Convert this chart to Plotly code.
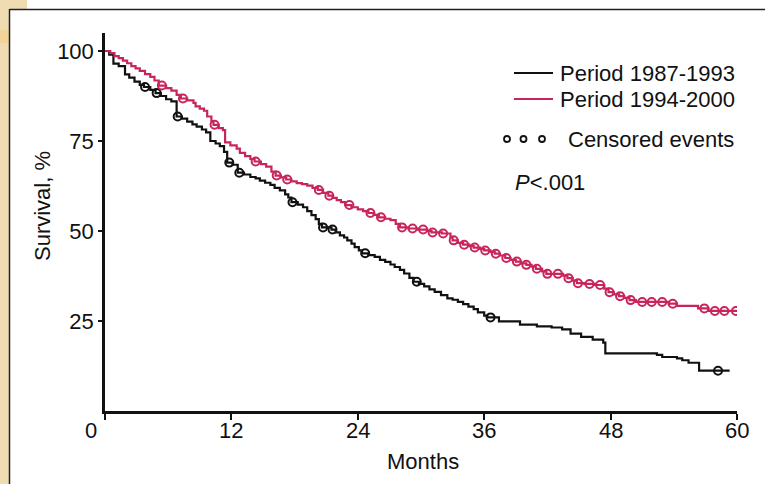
import numpy as np
import plotly.graph_objects as go

# ---------------- data ----------------
months_1987 = [0, 0.4, 0.8, 1.3, 1.9, 2.3, 2.8, 3.3, 3.7, 4.3, 4.8, 5.3, 5.8, 6.3, 6.8, 7.3, 7.8,
               8.3, 8.7, 9.2, 9.6, 10.0, 10.5, 10.9, 11.3, 11.6, 12.1, 12.6, 13.2, 13.8, 14.3, 14.7,
               15.2, 15.7, 16.1, 16.6, 17.1, 17.4, 17.7, 18.3, 18.8, 19.2, 19.6, 20.0, 20.3, 20.6,
               21.5, 21.9, 22.3, 22.7, 23.0, 23.4, 23.7, 24.1, 24.4, 25.0, 25.6, 26.1, 26.6, 27.1,
               27.5, 28.0, 28.4, 28.9, 29.3, 29.8, 30.3, 30.8, 31.3, 31.9, 32.5, 33.0, 33.5, 34.0,
               34.5, 35.0, 35.4, 36.0, 36.3, 37.4, 39.4, 41.0, 42.4, 43.4, 44.2, 45.2, 46.3, 47.3,
               47.5, 52.4, 52.9, 54.3, 54.8, 55.4, 56.4]
surv_1987 = [100, 99, 96.5, 95.8, 93.5, 92.6, 91.5, 90.6, 90.0, 89.2, 88.3, 87.5, 86.6, 86.0, 81.8,
             81.2, 80.4, 79.6, 79.0, 78.2, 77.4, 75.0, 74.3, 73.6, 72.0, 69.0, 68.4, 66.2, 65.7, 65.0,
             64.6, 64.0, 63.4, 62.8, 62.0, 61.3, 60.2, 59.3, 58.0, 57.3, 56.6, 55.5, 54.4, 53.3, 52.0,
             51.0, 50.4, 49.6, 48.8, 48.2, 47.4, 46.5, 45.5, 44.6, 43.8, 43.3, 42.8, 42.0, 41.4, 40.7,
             40.0, 39.2, 38.2, 37.0, 35.9, 35.3, 34.6, 33.8, 33.1, 32.2, 31.3, 30.9, 30.3, 29.7, 29.0,
             28.3, 27.4, 26.5, 26.0, 24.9, 24.0, 23.5, 23.2, 22.7, 21.5, 20.6, 19.8, 19.0, 16.0, 15.6,
             15.0, 14.6, 14.1, 13.4, 11.2]
end_1987 = 59.3
censored_1987 = [3.8, 4.9, 6.9, 11.8, 12.75, 17.8, 20.7, 21.6, 24.7, 29.6, 36.6, 58.2]

months_1994 = [0, 0.5, 0.9, 1.3, 1.7, 2.1, 2.5, 2.9, 3.3, 3.8, 4.3, 4.7, 5.1, 5.8, 6.3, 6.8, 7.2,
               7.8, 8.4, 8.6, 9.0, 9.4, 9.7, 10.1, 10.3, 10.8, 11.2, 11.4, 11.9, 12.5, 12.8, 13.3,
               13.8, 14.2, 14.8, 15.3, 15.8, 16.2, 16.7, 17.2, 17.7, 18.2, 18.7, 19.2, 19.7, 20.2,
               20.7, 21.2, 21.6, 22.0, 22.4, 22.8, 23.4, 24.0, 24.5, 25.0, 25.5, 26.0, 26.6, 27.1,
               27.6, 28.0, 28.8, 29.7, 30.6, 31.0, 32.0, 32.8, 33.0, 33.5, 34.0, 34.6, 35.0, 35.6,
               36.0, 36.6, 37.0, 37.5, 38.0, 38.5, 39.0, 39.5, 40.0, 40.5, 40.9, 41.5, 41.9, 43.5,
               43.9, 44.4, 44.8, 45.5, 46.5, 47.4, 47.8, 48.3, 48.8, 49.3, 49.8, 50.4, 53.5, 54.3,
               56.3, 57.3]
surv_1994 = [100, 99.4, 98.6, 98.0, 97.3, 96.6, 95.8, 95.2, 94.5, 93.6, 92.8, 91.8, 90.4, 89.7, 89.0,
             87.8, 86.8, 86.3, 85.6, 84.6, 84.0, 83.4, 81.8, 80.5, 79.5, 78.6, 78.0, 74.6, 73.8, 72.9,
             71.7, 70.8, 70.0, 69.3, 68.6, 67.9, 66.5, 65.4, 64.9, 64.3, 63.8, 63.3, 63.0, 62.6, 62.0,
             61.4, 60.6, 59.8, 59.2, 58.6, 58.0, 57.2, 56.6, 56.0, 55.5, 55.0, 54.5, 53.8, 53.4, 53.0,
             52.0, 51.0, 50.7, 50.4, 50.0, 49.6, 49.3, 48.2, 47.4, 46.7, 46.2, 45.8, 45.4, 45.0, 44.6,
             44.2, 43.7, 43.2, 42.5, 42.0, 41.5, 41.0, 40.6, 40.1, 39.5, 38.8, 38.1, 37.6, 36.9, 36.2,
             35.5, 35.3, 35.0, 34.0, 33.0, 32.4, 31.9, 31.4, 30.8, 30.3, 29.8, 29.2, 28.5, 27.8]
end_1994 = 60.0
censored_1994 = [5.4, 7.4, 10.4, 14.3, 16.3, 17.3, 20.3, 21.3, 23.2, 25.2, 26.2, 28.2, 29.2, 30.2,
                 31.1, 32.1, 33.1, 34.1, 35.1, 36.1, 37.1, 38.1, 39.1, 40.0, 41.0, 42.0, 43.0, 44.0,
                 44.9, 46.0, 47.0, 47.9, 48.9, 49.9, 51.0, 51.9, 52.9, 53.9, 56.9, 57.9, 58.8, 59.9]

x_ticks = [0, 12, 24, 36, 48, 60]
x_tick_labels = ["0", "12", "24", "36", "48", "60"]
y_ticks = [25, 50, 75, 100]
legend_labels = ["Period 1987-1993", "Period 1994-2000", "Censored events"]
p_label = "<i>P</i>&lt;.001"

BLACK = "#111111"
RED = "#c8265a"
FONT = "Liberation Sans, Arial, Helvetica, sans-serif"


def km_at(times, surv, t):
    idx = np.searchsorted(np.asarray(times), t, side="right") - 1
    return [surv[i] for i in idx]


fig = go.Figure()
for times, surv, end, cens, col in [
    (months_1987, surv_1987, end_1987, censored_1987, BLACK),
    (months_1994, surv_1994, end_1994, censored_1994, RED),
]:
    fig.add_trace(go.Scatter(x=times + [end], y=surv + [surv[-1]], mode="lines",
                             line=dict(color=col, width=2.2, shape="hv"), hoverinfo="skip"))
    fig.add_trace(go.Scatter(x=cens, y=km_at(times, surv, cens), mode="markers",
                             marker=dict(symbol="circle-open", size=8, color=col,
                                         line=dict(color=col, width=2)), hoverinfo="skip"))

# pixel -> paper helpers (plot area: x 105..737, y 33..411)
L, R, T, B = 105, 737, 33, 411
def px(x):
    return (x - L) / (R - L)
def py(y):
    return (B - y) / (B - T)

shapes = []
# page background / frame
shapes.append(dict(type="rect", xref="paper", yref="paper", x0=px(0), x1=px(9), y0=py(484), y1=py(0),
                   fillcolor="#efdcb2", line_width=0, layer="below"))
shapes.append(dict(type="rect", xref="paper", yref="paper", x0=px(0), x1=px(27), y0=py(9), y1=py(0),
                   fillcolor="#efdcb2", line_width=0, layer="below"))
shapes.append(dict(type="rect", xref="paper", yref="paper", x0=px(0), x1=px(9), y0=py(43), y1=py(30),
                   fillcolor="#f2d49a", line_width=0, layer="below"))
shapes.append(dict(type="line", xref="paper", yref="paper", x0=px(9.5), x1=px(9.5), y0=py(484), y1=py(9),
                   line=dict(color="#222222", width=1.5)))
shapes.append(dict(type="line", xref="paper", yref="paper", x0=px(9.5), x1=px(765), y0=py(9.5), y1=py(9.5),
                   line=dict(color="#222222", width=1.5)))
# legend line samples
shapes.append(dict(type="line", xref="paper", yref="paper", x0=px(514), x1=px(553), y0=py(73), y1=py(73),
                   line=dict(color=BLACK, width=2)))
shapes.append(dict(type="line", xref="paper", yref="paper", x0=px(514), x1=px(553), y0=py(99), y1=py(99),
                   line=dict(color=RED, width=2)))
for cx in [507, 523.5, 542]:
    shapes.append(dict(type="circle", xref="paper", yref="paper", x0=px(cx - 3), x1=px(cx + 3),
                       y0=py(139 + 3), y1=py(139 - 3), line=dict(color=BLACK, width=1.8)))

annotations = [
    dict(text=legend_labels[0], x=px(558), y=py(73), xanchor="left", yanchor="middle"),
    dict(text=legend_labels[1], x=px(558), y=py(99), xanchor="left", yanchor="middle"),
    dict(text=legend_labels[2], x=px(566), y=py(139), xanchor="left", yanchor="middle"),
    dict(text=p_label, x=px(513), y=py(182), xanchor="left", yanchor="middle"),
    dict(text="Months", x=px(423), y=py(461), xanchor="center", yanchor="middle"),
    dict(text="Survival, %", x=px(42), y=py(206), xanchor="center", yanchor="middle", textangle=-90),
]
# x tick labels (the "0" sits left of the axis corner as in the original)
for v, lab in zip(x_ticks, x_tick_labels):
    xpix = L + (R - L) * v / 60.0
    if v == 0:
        xpix = 91
    annotations.append(dict(text=lab, x=px(xpix), y=py(430), xanchor="center", yanchor="middle"))
for a in annotations:
    a.update(xref="paper", yref="paper", showarrow=False, font=dict(family=FONT, size=22, color="#111111"))

fig.update_layout(
    width=765, height=484,
    margin=dict(l=L, r=765 - R, t=T, b=484 - B),
    paper_bgcolor="white", plot_bgcolor="white",
    showlegend=False,
    shapes=shapes, annotations=annotations,
    font=dict(family=FONT, size=22, color="#111111"),
    xaxis=dict(range=[0, 60], tickvals=x_ticks, showticklabels=False,
               showgrid=False, zeroline=False, showline=True, linecolor="#111111", linewidth=2.5,
               ticks="outside", ticklen=6, tickwidth=2, tickcolor="#111111", fixedrange=True),
    yaxis=dict(range=[0, 105], tickvals=y_ticks, showgrid=False, zeroline=False, showline=True,
               linecolor="#111111", linewidth=2.5, ticks="outside", ticklen=4, tickwidth=2,
               tickcolor="#111111", tickfont=dict(family=FONT, size=22, color="#111111"),
               fixedrange=True),
)

fig.write_html("out.html", config={"displayModeBar": False},
               post_script="document.body.style.margin='0px';document.body.style.overflow='hidden';")
